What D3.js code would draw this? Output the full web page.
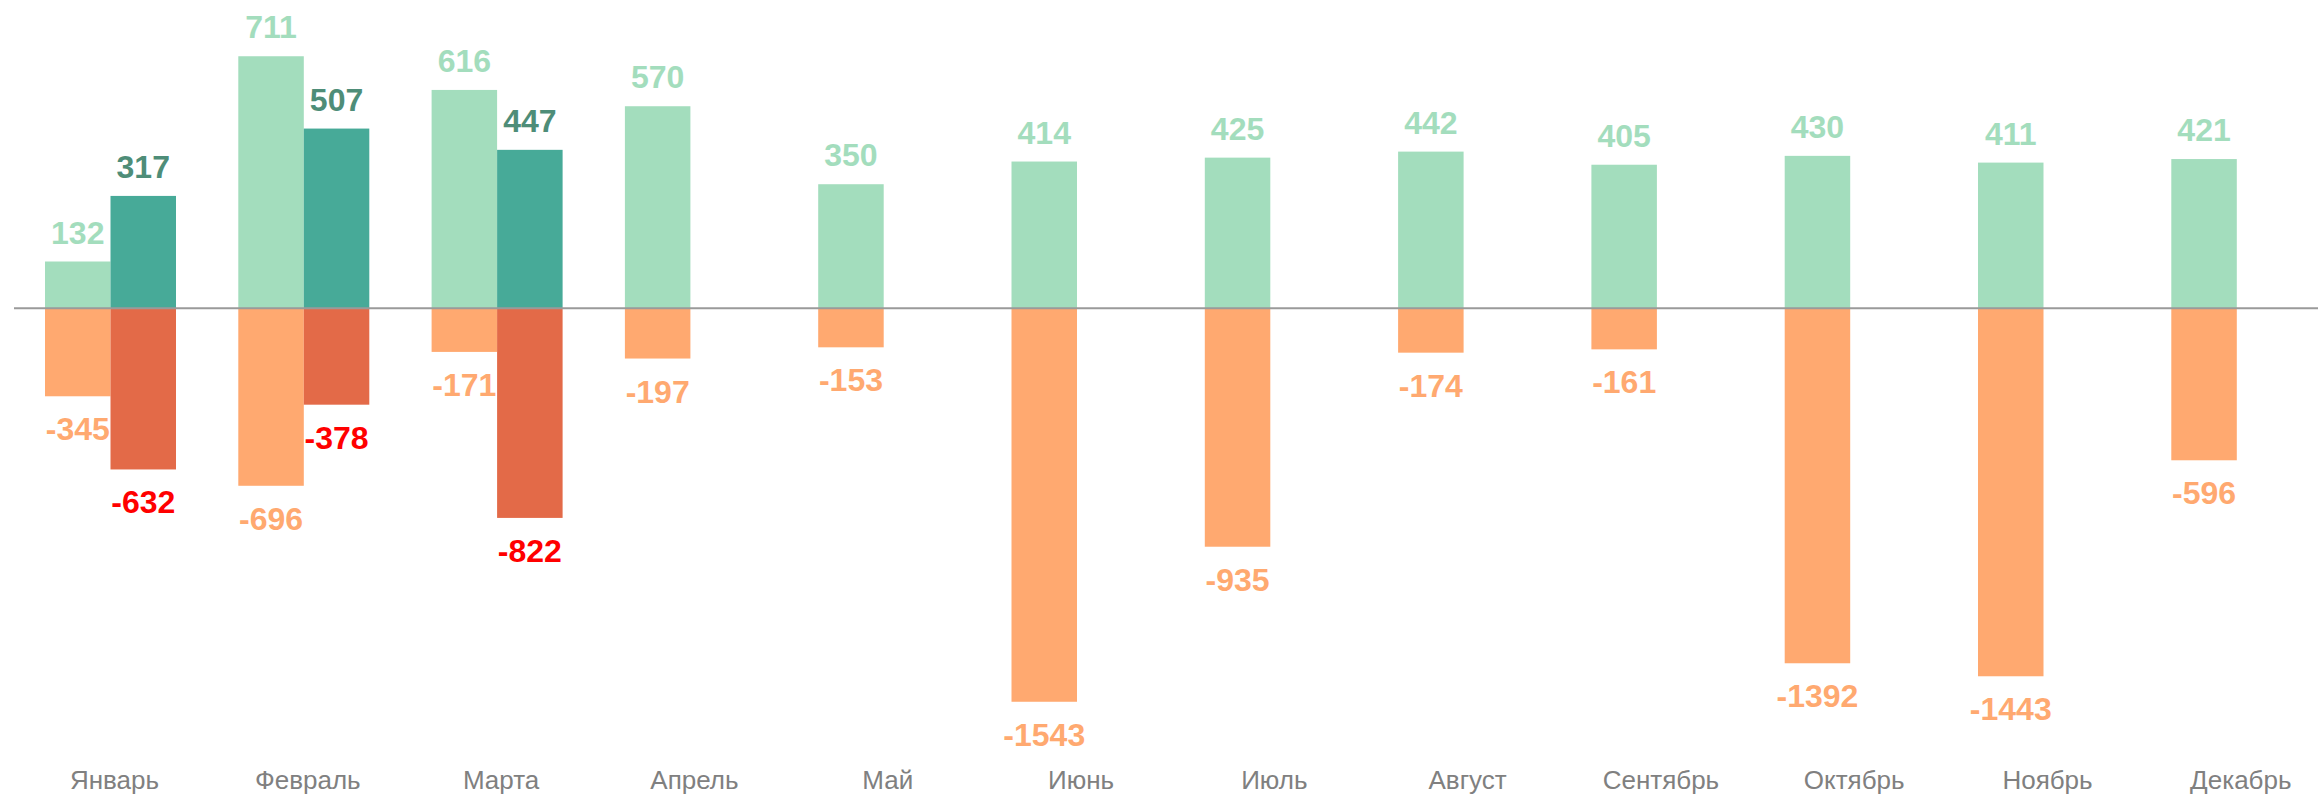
<!DOCTYPE html>
<html>
<head>
<meta charset="utf-8">
<script src="https://cdn.jsdelivr.net/npm/d3@7"></script>
<style>
  html, body { margin: 0; padding: 0; background: #fff; }
  svg { display: block; }
  .month { font-family: "Liberation Sans", Arial, sans-serif; font-size: 26px; fill: #808080; }
  .val { font-family: "Liberation Sans", Arial, sans-serif; font-size: 32px; font-weight: bold; }
</style>
</head>
<body>
<div id="bar"></div>
<script>
var months = ["Январь", "Февраль", "Марта", "Апрель", "Май", "Июнь", "Июль", "Август", "Сентябрь", "Октябрь", "Ноябрь", "Декабрь"]
var plusMain = [132, 711, 616, 570, 350, 414, 425, 442, 405, 430, 411, 421]
var plusExtra = [317, 507, 447, null, null, null, null, null, null, null, null, null]
var minusMain = [-345, -696, -171, -197, -153, -1543, -935, -174, -161, -1392, -1443, -596]
var minusExtra = [-632, -378, -822, null, null, null, null, null, null, null, null, null]

function barchart() {
    var width = 2318, height = 796
    var zeroY = 308.3

    var svg = d3.select("#bar").append("svg")
        .attr("width", width).attr("height", height)
    var chartLayer = svg.append("g").classed("chartLayer", true)
    var labelLayer = svg.append("g").classed("labelLayer", true)
    var axisLayer = svg.append("g").classed("axisLayer", true)

    // month bands: light bar left half, dark bar right half
    var xScale = d3.scaleBand()
        .domain(months)
        .range([45, 45 + 11 * 193.3 + 131])
        .paddingInner(1 - 131 / 193.3)
        .paddingOuter(0)
        .align(0)
    var subScale = d3.scaleBand()
        .domain(["main", "extra"])
        .range([0, xScale.bandwidth()])

    // the two sides of the chart use different scales in the original
    var yPlus = d3.scaleLinear().domain([0, 1000]).range([zeroY, zeroY - 354.5])
    var yMinus = d3.scaleLinear().domain([0, -1000]).range([zeroY, zeroY + 255])

    var series = [
        {key: "main", values: plusMain, y: yPlus, fill: "#a3ddbd", text: "#a3ddbd"},
        {key: "extra", values: plusExtra, y: yPlus, fill: "#47aa98", text: "#4e8d78"},
        {key: "main", values: minusMain, y: yMinus, fill: "#ffa970", text: "#ffa970"},
        {key: "extra", values: minusExtra, y: yMinus, fill: "#e36a48", text: "#ff0000"}
    ]

    series.forEach(function (s) {
        var data = months.map(function (m, i) {
            return {month: m, v: s.values[i]}
        }).filter(function (d) { return d.v != null })

        chartLayer.selectAll(null).data(data).enter().append("rect")
            .attr("x", function (d) { return xScale(d.month) + subScale(s.key) })
            .attr("width", subScale.bandwidth())
            .attr("y", function (d) { return Math.min(s.y(d.v), zeroY) })
            .attr("height", function (d) { return Math.abs(s.y(d.v) - zeroY) })
            .attr("fill", s.fill)

        labelLayer.selectAll(null).data(data).enter().append("text")
            .attr("class", "val")
            .attr("text-anchor", "middle")
            .attr("x", function (d) { return xScale(d.month) + subScale(s.key) + subScale.bandwidth() / 2 })
            .attr("y", function (d) {
                return d.v >= 0 ? s.y(d.v) - 18 : s.y(d.v) + 44
            })
            .attr("fill", s.text)
            .text(function (d) { return d.v })
    })

    // zero line
    axisLayer.append("line")
        .attr("x1", 14).attr("x2", width)
        .attr("y1", zeroY).attr("y2", zeroY)
        .attr("stroke", "#9a9a9a").attr("stroke-width", 2)

    var xAxis = d3.axisBottom(xScale).tickSize(0).tickPadding(0)
    var gx = axisLayer.append("g")
        .attr("class", "axis x")
        .attr("transform", "translate(4,789)")
        .call(xAxis)
    gx.select(".domain").remove()
    gx.selectAll("text")
        .attr("class", "month")
        .attr("dy", 0)
        .attr("font-size", null).attr("font-family", null).attr("fill", null)
    gx.attr("font-size", null).attr("font-family", null)
}
barchart()
</script>
</body>
</html>
